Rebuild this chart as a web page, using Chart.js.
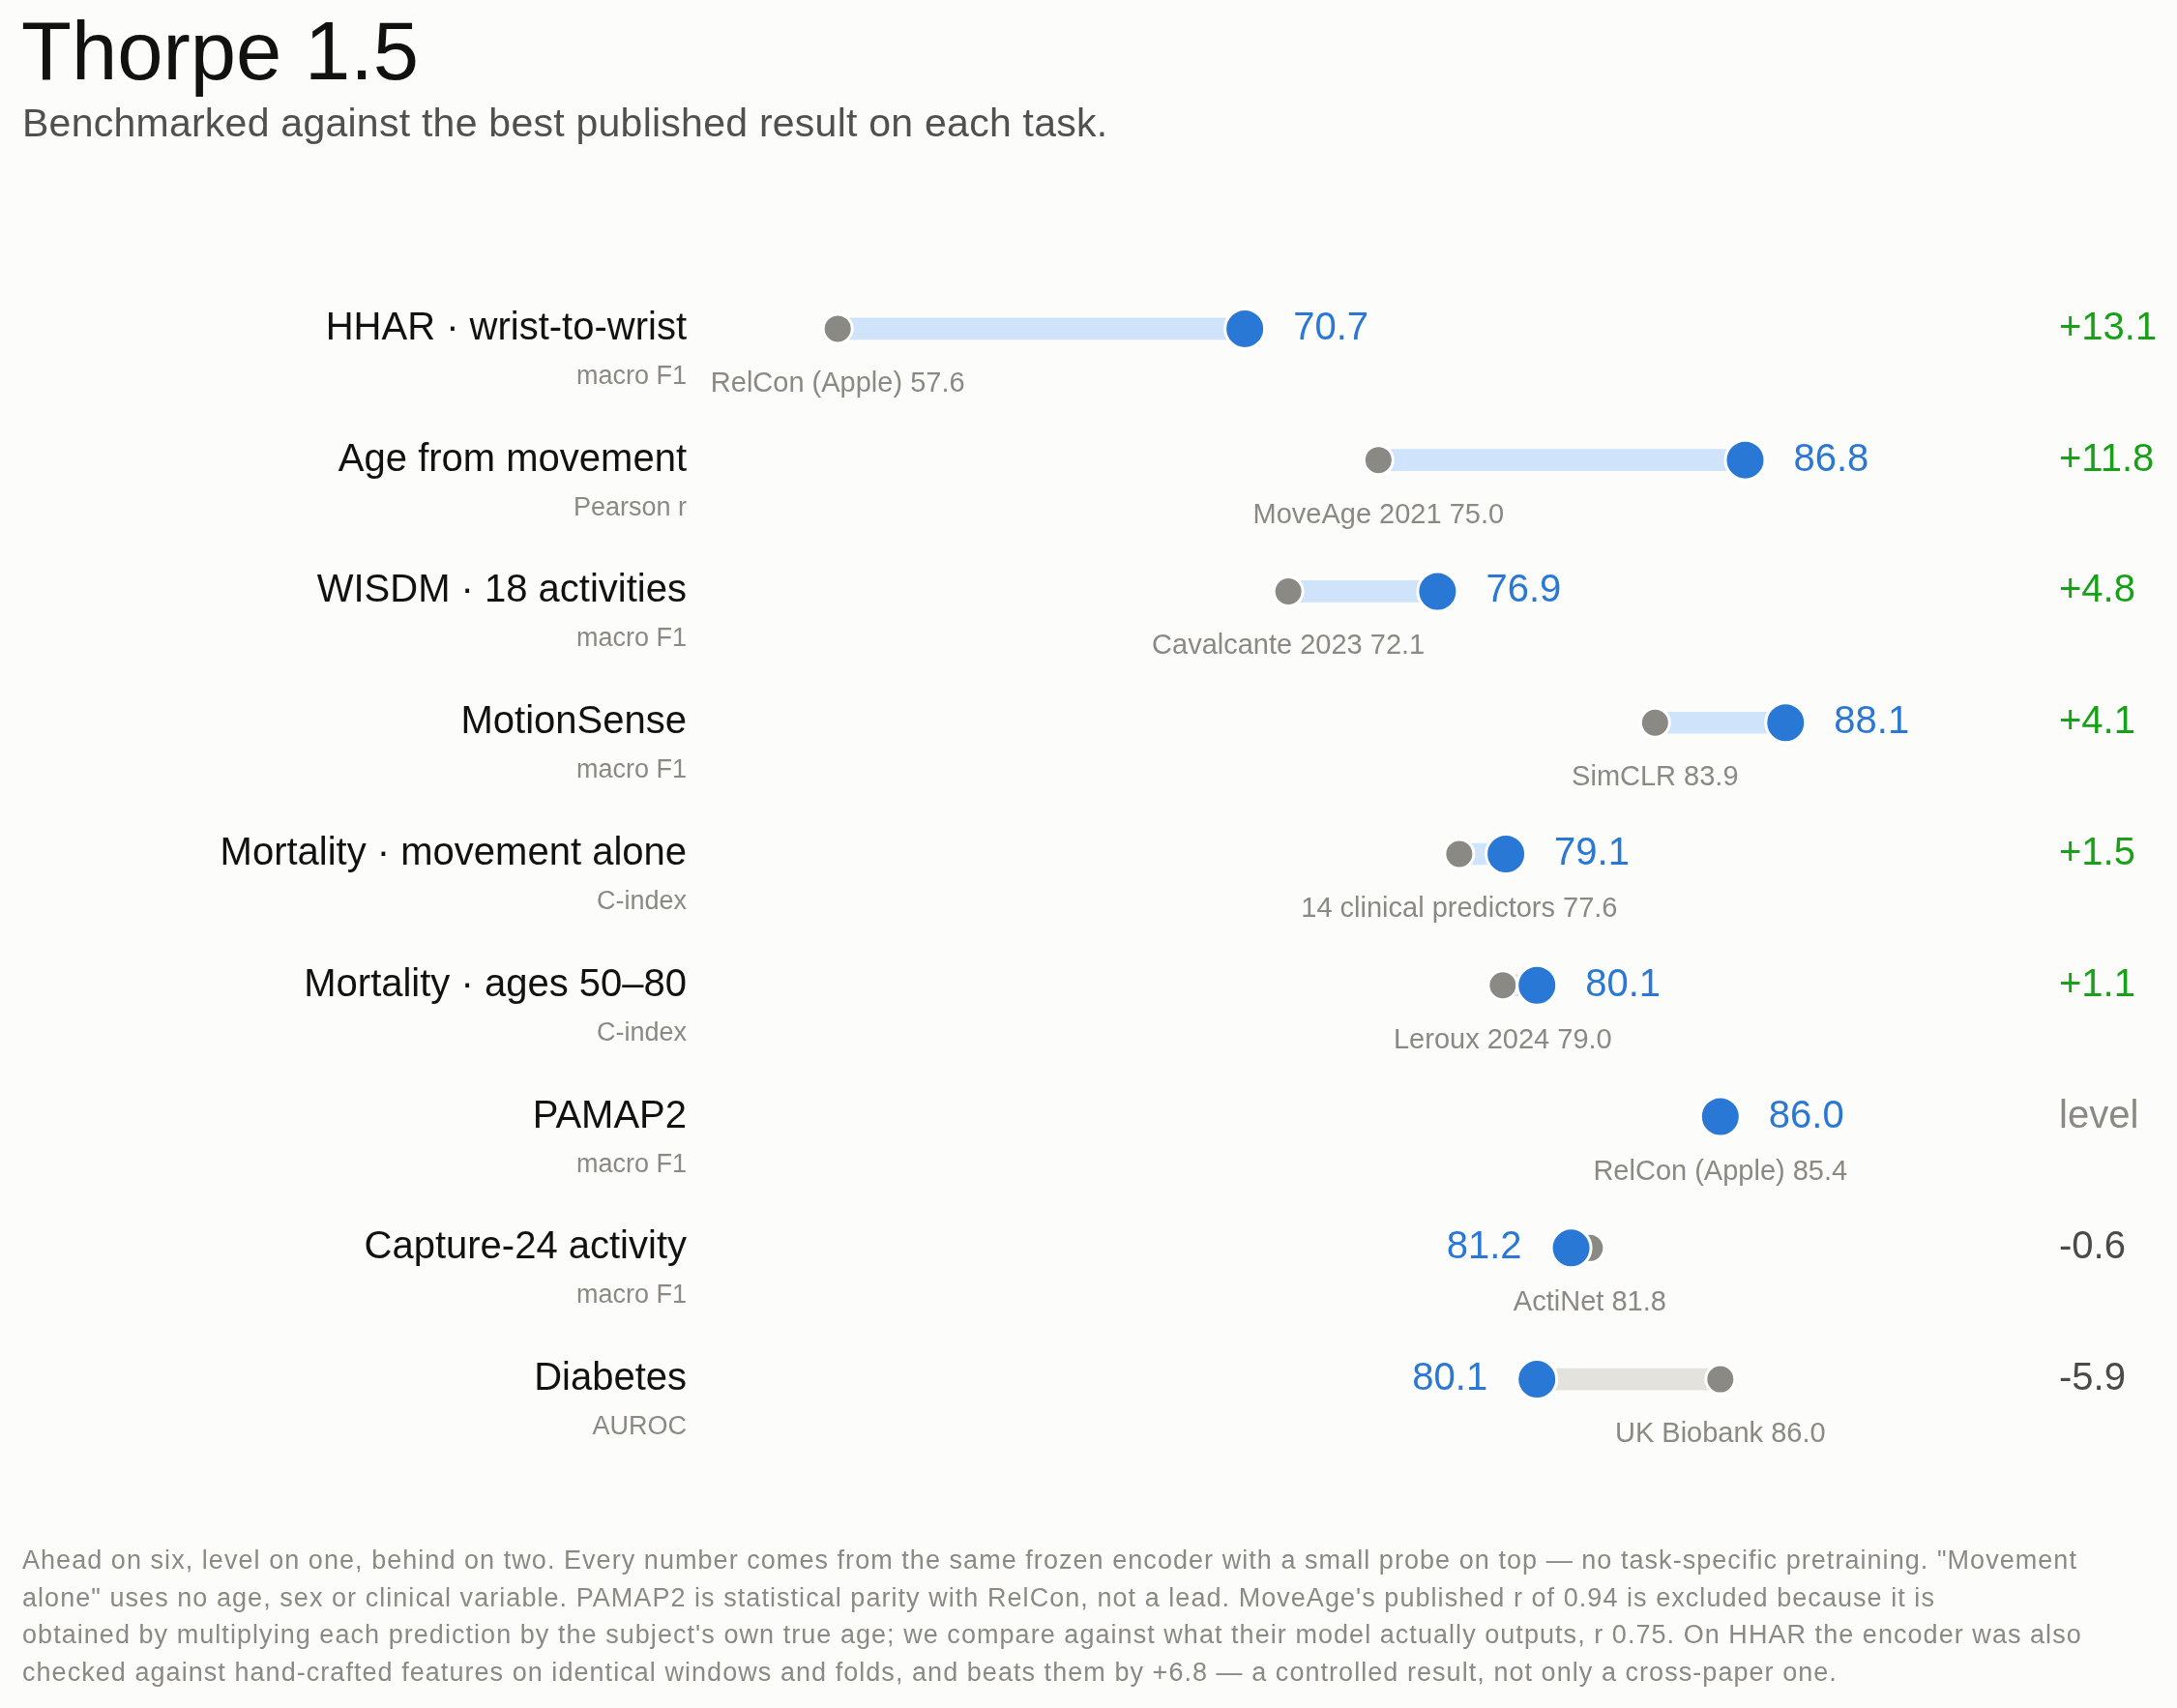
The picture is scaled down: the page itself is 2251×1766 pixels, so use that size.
<!DOCTYPE html>
<html>
<head>
<meta charset="utf-8">
<title>Thorpe 1.5</title>
<script src="https://cdn.jsdelivr.net/npm/chart.js@4.4.1/dist/chart.umd.min.js"></script>
<style>
  html, body { margin: 0; padding: 0; background: #fcfcfa; }
  body {
    width: 2251px; height: 1766px; position: relative; overflow: hidden;
    font-family: "Liberation Sans", Arial, Helvetica, sans-serif;
  }
  #chart { position: absolute; left: 0; top: 0; }
  .title { position: absolute; left: 22px; top: 10px; font-size: 85px; line-height: 1; color: #111; white-space: nowrap; }
  .subtitle { position: absolute; left: 23px; top: 107px; font-size: 41px; letter-spacing: 0.25px; line-height: 1; color: #505050; white-space: nowrap; }
  .note { position: absolute; left: 23px; top: 1594px; font-size: 27px; letter-spacing: 1.05px; line-height: 38.5px; color: #8a8983; white-space: nowrap; }
</style>
</head>
<body>
<canvas id="chart" width="2251" height="1766"></canvas>
<div class="title">Thorpe 1.5</div>
<div class="subtitle">Benchmarked against the best published result on each task.</div>
<div class="note">
Ahead on six, level on one, behind on two. Every number comes from the same frozen encoder with a small probe on top — no task-specific pretraining. "Movement<br>
alone" uses no age, sex or clinical variable. PAMAP2 is statistical parity with RelCon, not a lead. MoveAge's published r of 0.94 is excluded because it is<br>
obtained by multiplying each prediction by the subject's own true age; we compare against what their model actually outputs, r 0.75. On HHAR the encoder was also<br>
checked against hand-crafted features on identical windows and folds, and beats them by +6.8 — a controlled result, not only a cross-paper one.
</div>

<script>
// rows, top to bottom
const tasks = [
  'HHAR · wrist-to-wrist',
  'Age from movement',
  'WISDM · 18 activities',
  'MotionSense',
  'Mortality · movement alone',
  'Mortality · ages 50–80',
  'PAMAP2',
  'Capture-24 activity',
  'Diabetes'
];
const metrics = ['macro F1', 'Pearson r', 'macro F1', 'macro F1', 'C-index', 'C-index', 'macro F1', 'macro F1', 'AUROC'];
const baselineNames = ['RelCon (Apple)', 'MoveAge 2021', 'Cavalcante 2023', 'SimCLR', '14 clinical predictors', 'Leroux 2024', 'RelCon (Apple)', 'ActiNet', 'UK Biobank'];
const baselineScores = [57.6, 75.0, 72.1, 83.9, 77.6, 79.0, 85.4, 81.8, 86.0];
const thorpeScores = [70.7, 86.8, 76.9, 88.1, 79.1, 80.1, 86.0, 81.2, 80.1];
const deltaLabels = ['+13.1', '+11.8', '+4.8', '+4.1', '+1.5', '+1.1', 'level', '-0.6', '-5.9'];

const BLUE = '#2a78d6';
const GREY_DOT = '#8a8983';
const GREY_TEXT = '#8a8983';
const FONT = '"Liberation Sans", Arial, Helvetica, sans-serif';

const isLevel = i => deltaLabels[i] === 'level';

// labels, scores and deltas drawn next to each row
const rowText = {
  id: 'rowText',
  afterDatasetsDraw(chart) {
    const { ctx, scales: { x, y } } = chart;
    ctx.save();
    tasks.forEach((task, i) => {
      const cy = y.getPixelForValue(i);
      const xb = x.getPixelForValue(baselineScores[i]);
      const xt = x.getPixelForValue(thorpeScores[i]);

      // task name + metric
      ctx.textAlign = 'right';
      ctx.textBaseline = 'alphabetic';
      ctx.fillStyle = '#111';
      ctx.font = '40px ' + FONT;
      ctx.fillText(task, 710, cy + 11);
      ctx.fillStyle = GREY_TEXT;
      ctx.font = '27px ' + FONT;
      ctx.fillText(metrics[i], 710, cy + 57);

      // Thorpe score, on the far side of the dot
      ctx.fillStyle = BLUE;
      ctx.font = '40px ' + FONT;
      const score = thorpeScores[i].toFixed(1);
      if (thorpeScores[i] >= baselineScores[i]) {
        ctx.textAlign = 'left';
        ctx.fillText(score, xt + 50, cy + 11);
      } else {
        ctx.textAlign = 'right';
        ctx.fillText(score, xt - 51, cy + 11);
      }

      // best published result, under its dot
      ctx.textAlign = 'center';
      ctx.fillStyle = GREY_TEXT;
      ctx.font = '29px ' + FONT;
      ctx.fillText(baselineNames[i] + ' ' + baselineScores[i].toFixed(1), isLevel(i) ? xt : xb, cy + 65);

      // delta column
      const d = deltaLabels[i];
      ctx.textAlign = 'left';
      ctx.font = '40px ' + FONT;
      ctx.fillStyle = d.startsWith('+') ? '#19a019' : (isLevel(i) ? GREY_TEXT : '#4a4a48');
      ctx.fillText(d, 2129, cy + 11);
    });
    ctx.restore();
  }
};

new Chart(document.getElementById('chart'), {
  type: 'bar',
  data: {
    labels: tasks,
    datasets: [
      {
        type: 'bar',
        data: tasks.map((t, i) => isLevel(i) ? null : [baselineScores[i], thorpeScores[i]]),
        backgroundColor: tasks.map((t, i) => thorpeScores[i] >= baselineScores[i] ? '#cfe3fa' : '#e3e2dc'),
        borderWidth: 0,
        borderSkipped: false,
        barThickness: 22,
        order: 3
      },
      {
        type: 'line',
        showLine: false,
        data: tasks.map((t, i) => ({ x: baselineScores[i], y: t })),
        pointRadius: tasks.map((t, i) => isLevel(i) ? 0 : 15),
        pointBackgroundColor: GREY_DOT,
        pointBorderColor: '#ffffff',
        pointBorderWidth: 3,
        clip: false,
        order: 2
      },
      {
        type: 'line',
        showLine: false,
        data: tasks.map((t, i) => ({ x: thorpeScores[i], y: t })),
        pointRadius: 20.5,
        pointBackgroundColor: BLUE,
        pointBorderColor: '#ffffff',
        pointBorderWidth: 3,
        clip: false,
        order: 1
      }
    ]
  },
  options: {
    indexAxis: 'y',
    responsive: false,
    devicePixelRatio: 1,
    animation: false,
    events: [],
    layout: { padding: { left: 622, right: 183, top: 272, bottom: 272 } },
    scales: {
      x: { type: 'linear', min: 50, max: 95, display: false },
      y: { type: 'category', offset: true, display: false }
    },
    plugins: {
      legend: { display: false },
      tooltip: { enabled: false }
    }
  },
  plugins: [rowText]
});
</script>
</body>
</html>
